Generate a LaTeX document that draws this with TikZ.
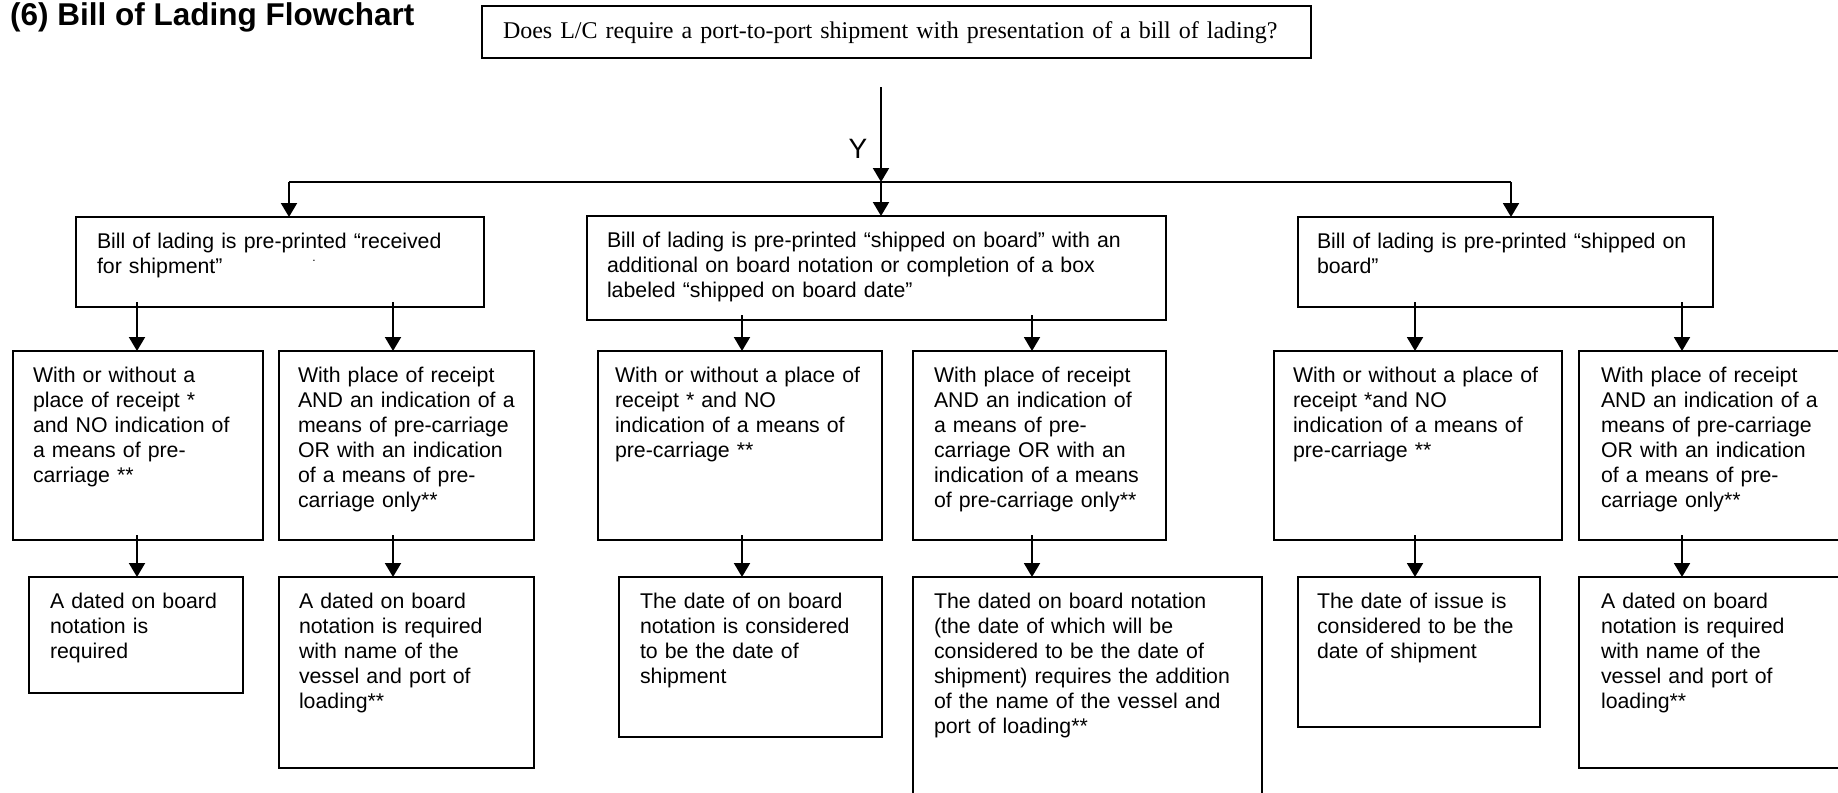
\documentclass[tikz,border=0pt]{standalone}
\usepackage{fontspec}
\setmainfont{Liberation Sans}
\newfontfamily\timesfont{Liberation Serif}
\usepackage{tikz}
\usetikzlibrary{arrows.meta,calc}
\newcommand\bodyfont{\fontsize{21.3}{25}\selectfont}
\tikzset{
  card/.style={draw,line width=2pt,anchor=north west,align=left,font=\bodyfont,
    inner ysep=0pt,outer sep=0pt,text height=31pt},
  arrow/.style={-{Triangle[length=14pt,width=16pt]},line width=2pt},
  heading/.style={font=\bfseries\fontsize{31.5}{34}\selectfont,inner sep=0pt,anchor=base west}
}

\begin{document}
\begin{tikzpicture}[x=1pt,y=-1pt]
  \useasboundingbox[fill=white] (0,0) rectangle (1838,792);
  \node[heading] (title) at (10,26) {(6) Bill of Lading Flowchart};
  \node[card,inner xsep=21pt,text width=787pt,text height=33pt,text depth=19pt,
    font=\timesfont\fontsize{24}{28}\selectfont] (q) at (482,6)
    {Does L/C require a port-to-port shipment with presentation of a bill of lading?};

  \node[card,inner xsep=21pt,text width=366pt,text depth=59pt] (rs) at (76,217)
    {Bill of lading is pre-printed “received\\for shipment”};
  \node[inner sep=0pt,font=\fontsize{12}{12}\selectfont] (dot) at (314,261) {.};
  \node[card,inner xsep=20pt,text width=539pt,text depth=73pt] (ab) at (587,216)
    {Bill of lading is pre-printed “shipped on board” with an\\additional on board notation or completion of a box\\labeled “shipped on board date”};
  \node[card,inner xsep=19pt,text width=377pt,text depth=59pt] (sb) at (1298,217)
    {Bill of lading is pre-printed “shipped on\\board”};

  \node[card,inner xsep=20pt,text width=210pt,text depth=158pt] (n1) at (13,351)
    {With or without a\\place of receipt *\\and NO indication of\\a means of pre-\\carriage **};
  \node[card,inner xsep=19pt,text width=217pt,text depth=158pt] (n2) at (279,351)
    {With place of receipt\\AND an indication of a\\means of pre-carriage\\OR with an indication\\of a means of pre-\\carriage only**};
  \node[card,inner xsep=17pt,text width=250pt,text depth=158pt] (n3) at (598,351)
    {With or without a place of\\receipt * and NO\\indication of a means of\\pre-carriage **};
  \node[card,inner xsep=21pt,text width=211pt,text depth=158pt] (n4) at (913,351)
    {With place of receipt\\AND an indication of\\a means of pre-\\carriage OR with an\\indication of a means\\of pre-carriage only**};
  \node[card,inner xsep=19pt,text width=250pt,text depth=158pt] (n5) at (1274,351)
    {With or without a place of\\receipt *and NO\\indication of a means of\\pre-carriage **};
  \node[card,inner xsep=22pt,text width=230pt,text depth=158pt] (n6) at (1579,351)
    {With place of receipt\\AND an indication of a\\means of pre-carriage\\OR with an indication\\of a means of pre-\\carriage only**};

  \node[card,inner xsep=21pt,text width=172pt,text depth=85pt] (r1) at (29,577)
    {A dated on board\\notation is\\required};
  \node[card,inner xsep=20pt,text width=215pt,text depth=160pt] (r2) at (279,577)
    {A dated on board\\notation is required\\with name of the\\vessel and port of\\loading**};
  \node[card,inner xsep=21pt,text width=221pt,text depth=129pt] (r3) at (619,577)
    {The date of on board\\notation is considered\\to be the date of\\shipment};
  \node[card,inner xsep=21pt,text width=307pt,text depth=192pt] (r4) at (913,577)
    {The dated on board notation\\(the date of which will be\\considered to be the date of\\shipment) requires the addition\\of the name of the vessel and\\port of loading**};
  \node[card,inner xsep=19pt,text width=204pt,text depth=119pt] (r5) at (1298,577)
    {The date of issue is\\considered to be the\\date of shipment};
  \node[card,inner xsep=22pt,text width=230pt,text depth=160pt] (r6) at (1579,577)
    {A dated on board\\notation is required\\with name of the\\vessel and port of\\loading**};

  \coordinate (split) at (881,182);
  \node[inner sep=0pt,font=\fontsize{28}{30}\selectfont] (ylab) at (858,149) {Y};
  \draw[arrow] ($(q.south -| split)+(0,29)$) -- (split);
  \draw[arrow] (split) -- (ab.north -| split);
  \draw[line width=2pt] (split -| 289,0) -- (split -| 1511,0);
  \draw[arrow] (split -| 289,0) -- (rs.north -| 289,0);
  \draw[arrow] (split -| 1511,0) -- (sb.north -| 1511,0);
  \foreach \u/\v/\x in {rs/n1/137,rs/n2/393,ab/n3/742,ab/n4/1032,sb/n5/1415,sb/n6/1682,
      n1/r1/137,n2/r2/393,n3/r3/742,n4/r4/1032,n5/r5/1415,n6/r6/1682}
    \draw[arrow] ($(\u.south -| \x,0)+(0,-5)$) -- (\v.north -| \x,0);
\end{tikzpicture}
\end{document}
